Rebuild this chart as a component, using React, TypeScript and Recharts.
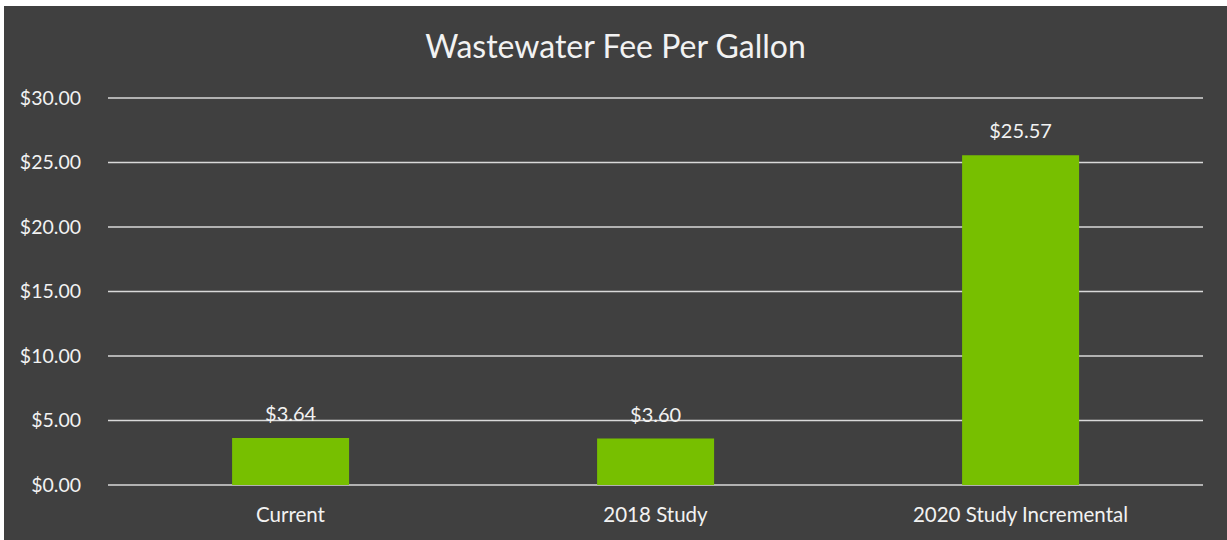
import React from 'react';
import { BarChart, Bar, XAxis, YAxis, CartesianGrid, LabelList } from 'recharts';

const categories = ['Current', '2018 Study', '2020 Study Incremental'];
const fees = [3.64, 3.6, 25.57];
const yTicks = [0, 5, 10, 15, 20, 25, 30];

const data = categories.map((name, i) => ({ name, fee: fees[i] }));

const money = (v: number) => `$${v.toFixed(2)}`;
const font = 'Lato, "Open Sans", sans-serif';

const App: React.FC = () => {
  return (
    <div style={{ position: 'absolute', left: 4, top: 6, width: 1223, height: 534, background: '#404040', fontFamily: font }}>
      <div style={{ position: 'absolute', top: 24, left: 0, width: 1223, textAlign: 'center', color: '#f2f2f2', fontSize: 32, lineHeight: '32px' }}>
        Wastewater Fee Per Gallon
      </div>
      <BarChart width={1223} height={534} data={data} margin={{ top: 92, right: 24, bottom: 14, left: 0 }} barCategoryGap="34%">
        <CartesianGrid horizontal vertical={false} stroke="#d9d9d9" strokeWidth={1.5} />
        <XAxis
          dataKey="name"
          axisLine={false}
          tickLine={false}
          tickSize={0}
          tickMargin={22}
          height={41}
          tick={{ fill: '#f2f2f2', fontSize: 20.5, fontFamily: font }}
        />
        <YAxis
          domain={[0, 30]}
          ticks={yTicks}
          width={104}
          axisLine={false}
          tickLine={false}
          tickSize={0}
          tickMargin={27}
          tickFormatter={money}
          tick={{ fill: '#f2f2f2', fontSize: 19.5, fontFamily: font }}
        />
        <Bar dataKey="fee" fill="#77bf00" isAnimationActive={false}>
          <LabelList dataKey="fee" position="top" offset={17} formatter={(v: any) => money(Number(v))} fill="#f2f2f2" fontSize={20} fontFamily={font} />
        </Bar>
      </BarChart>
    </div>
  );
};

export default App;
